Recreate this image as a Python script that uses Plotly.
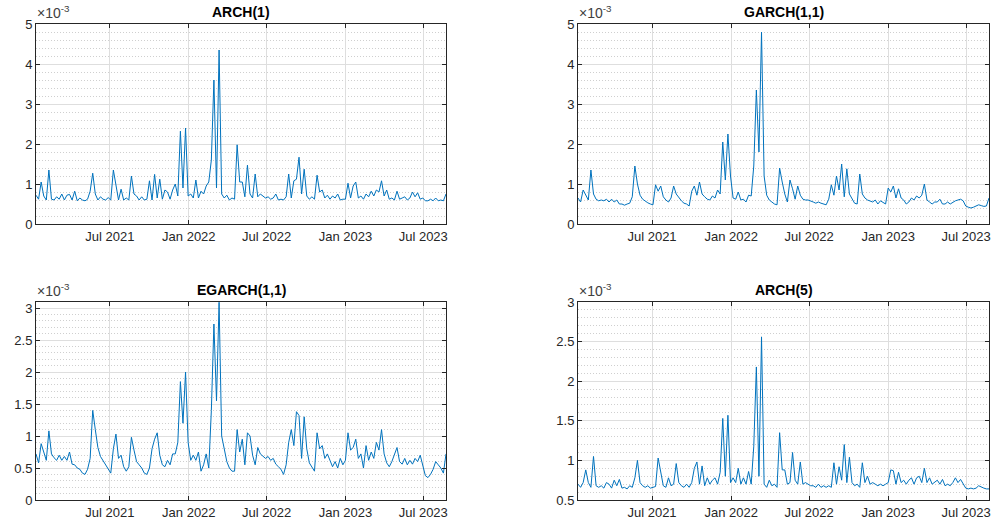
import pandas as pd
import plotly.graph_objects as go

# ---------------- data (conditional variance, units of 1e-3) ----------------
start_date = "2021-01-10"
end_date = "2023-08-23"

titles = ["ARCH(1)", "GARCH(1,1)", "EGARCH(1,1)", "ARCH(5)"]

arch1 = [
    0.72, 0.62, 1.05, 0.70, 0.60, 1.35, 0.62, 0.60, 0.68, 0.62,
    0.75, 0.60, 0.72, 0.74, 0.60, 0.82, 0.58, 0.65, 0.60, 0.58,
    0.62, 0.82, 1.27, 0.75, 0.60, 0.68, 0.62, 0.60, 0.66, 0.60,
    1.35, 0.95, 0.60, 0.87, 0.60, 0.65, 0.60, 1.20, 0.75, 0.70,
    0.60, 0.68, 0.60, 0.62, 1.08, 0.60, 1.24, 0.65, 1.12, 0.62,
    0.85, 0.80, 0.62, 0.85, 1.00, 0.70, 2.32, 0.90, 2.40, 0.70,
    0.75, 0.65, 1.10, 0.65, 0.82, 0.75, 0.95, 1.05, 1.60, 3.60,
    0.90, 4.35, 0.75, 0.65, 0.72, 0.60, 0.65, 0.62, 1.98, 1.05,
    1.05, 0.68, 1.47, 0.75, 0.65, 1.25, 0.68, 0.75, 0.70, 0.65,
    0.68, 0.62, 0.65, 0.75, 0.60, 0.62, 0.60, 0.68, 1.25, 0.65,
    1.08, 1.12, 1.67, 0.75, 1.37, 0.70, 0.62, 0.68, 0.62, 1.22,
    0.80, 0.85, 0.65, 0.72, 0.62, 0.70, 0.65, 0.75, 0.60, 0.62,
    0.62, 1.02, 0.65, 0.95, 1.05, 0.65, 0.70, 0.62, 0.75, 0.68,
    0.82, 0.70, 0.85, 0.80, 1.08, 0.70, 0.85, 0.62, 0.65, 0.60,
    0.82, 0.62, 0.65, 0.68, 0.60, 0.65, 0.80, 0.68, 0.78, 0.62,
    0.65, 0.58, 0.58, 0.62, 0.58, 0.65, 0.58, 0.60, 0.58, 0.75,
]

garch11 = [
    0.65, 0.55, 0.85, 0.72, 0.60, 1.35, 0.75, 0.62, 0.58, 0.60,
    0.58, 0.62, 0.55, 0.62, 0.55, 0.60, 0.50, 0.50, 0.47, 0.50,
    0.52, 0.68, 1.45, 1.00, 0.72, 0.62, 0.57, 0.53, 0.50, 0.48,
    0.98, 0.82, 0.95, 0.68, 0.60, 0.55, 0.65, 0.95, 0.75, 0.65,
    0.58, 0.52, 0.50, 0.45, 0.82, 0.95, 0.72, 1.05, 0.75, 0.68,
    0.62, 0.60, 0.70, 0.65, 0.85, 0.75, 2.05, 1.10, 2.25, 1.20,
    0.65, 0.62, 0.80, 0.60, 0.62, 0.55, 0.72, 0.70, 1.45, 3.35,
    1.80, 4.80, 1.20, 0.72, 0.60, 0.55, 0.50, 0.48, 1.40, 1.05,
    0.75, 0.55, 1.10, 0.88, 0.62, 0.95, 0.72, 0.62, 0.60, 0.60,
    0.58, 0.55, 0.52, 0.55, 0.52, 0.50, 0.48, 0.62, 0.98, 0.72,
    1.20, 0.85, 1.50, 0.68, 1.38, 0.75, 0.62, 0.52, 0.50, 1.25,
    0.75, 0.65, 0.60, 0.58, 0.55, 0.60, 0.50, 0.58, 0.55, 0.50,
    0.90, 0.80, 0.95, 0.65, 0.88, 0.65, 0.60, 0.50, 0.55, 0.65,
    0.60, 0.70, 0.65, 0.72, 1.00, 0.60, 0.55, 0.50, 0.55, 0.55,
    0.62, 0.50, 0.50, 0.55, 0.50, 0.55, 0.58, 0.60, 0.62, 0.58,
    0.45, 0.42, 0.40, 0.42, 0.45, 0.48, 0.46, 0.44, 0.45, 0.65,
]

egarch11 = [
    0.72, 0.58, 0.88, 0.76, 0.62, 1.08, 0.72, 0.66, 0.62, 0.70,
    0.62, 0.68, 0.62, 0.75, 0.56, 0.55, 0.50, 0.48, 0.42, 0.40,
    0.48, 0.65, 1.40, 1.10, 0.82, 0.68, 0.62, 0.55, 0.50, 0.42,
    0.80, 1.03, 0.65, 0.70, 0.52, 0.45, 0.52, 0.98, 0.78, 0.60,
    0.55, 0.50, 0.42, 0.40, 0.50, 0.80, 0.95, 1.05, 0.70, 0.55,
    0.52, 0.62, 0.55, 0.72, 0.72, 0.90, 1.85, 1.20, 2.00, 0.90,
    0.62, 0.70, 0.62, 0.75, 0.45, 0.55, 0.72, 0.50, 1.40, 2.75,
    1.55, 3.09, 1.00, 0.80, 0.60, 0.50, 0.45, 0.45, 1.10, 0.75,
    0.95, 0.55, 1.05, 1.00, 0.70, 0.55, 0.82, 0.72, 0.68, 0.65,
    0.68, 0.62, 0.65, 0.56, 0.52, 0.48, 0.40, 0.55, 0.90, 1.10,
    0.85, 1.38, 1.32, 0.65, 1.30, 0.80, 0.58, 0.52, 0.45, 1.05,
    0.80, 0.85, 0.65, 0.72, 0.62, 0.52, 0.60, 0.50, 0.65, 0.55,
    0.62, 1.05, 0.78, 0.82, 0.95, 0.65, 0.72, 0.50, 0.85, 0.62,
    0.75, 0.65, 0.90, 0.78, 1.10, 0.72, 0.58, 0.52, 0.60, 0.70,
    0.82, 0.60, 0.56, 0.65, 0.55, 0.62, 0.56, 0.65, 0.60, 0.70,
    0.52, 0.38, 0.35, 0.40, 0.48, 0.60, 0.55, 0.50, 0.42, 0.72,
]

arch5 = [
    0.70, 0.66, 0.72, 0.88, 0.72, 0.66, 1.05, 0.68, 0.66, 0.68,
    0.65, 0.72, 0.70, 0.65, 0.75, 0.68, 0.76, 0.65, 0.66, 0.64,
    0.68, 0.66, 0.78, 1.00, 0.72, 0.68, 0.66, 0.68, 0.65, 0.66,
    0.67, 1.03, 0.83, 0.68, 0.66, 0.78, 0.68, 0.70, 0.96, 0.72,
    0.68, 0.66, 0.70, 0.66, 0.72, 0.90, 0.98, 0.70, 0.93, 0.68,
    0.78, 0.70, 0.75, 0.78, 0.70, 0.85, 1.53, 0.80, 1.57, 0.72,
    0.78, 0.72, 0.90, 0.70, 0.78, 0.70, 0.86, 0.70, 1.18, 2.18,
    0.80, 2.56, 0.70, 0.66, 0.75, 0.68, 0.70, 0.66, 1.35, 0.88,
    0.88, 0.70, 0.72, 1.10, 0.75, 0.70, 0.98, 0.70, 0.72, 0.70,
    0.68, 0.68, 0.66, 0.70, 0.66, 0.68, 0.66, 0.68, 0.66, 0.97,
    0.70, 0.92, 0.75, 1.20, 0.72, 1.04, 0.72, 0.68, 0.70, 0.66,
    0.97, 0.72, 0.80, 0.70, 0.72, 0.70, 0.68, 0.70, 0.68, 0.70,
    0.72, 0.88, 0.87, 0.70, 0.85, 0.72, 0.75, 0.70, 0.75, 0.78,
    0.70, 0.78, 0.80, 0.72, 0.90, 0.72, 0.78, 0.70, 0.72, 0.75,
    0.70, 0.76, 0.68, 0.70, 0.68, 0.72, 0.78, 0.72, 0.76, 0.70,
    0.65, 0.64, 0.65, 0.64, 0.65, 0.68, 0.66, 0.65, 0.64, 0.64,
]

x_tick_dates = ["2021-07-01", "2022-01-01", "2022-07-01", "2023-01-01", "2023-07-01"]
x_tick_labels = ["Jul 2021", "Jan 2022", "Jul 2022", "Jan 2023", "Jul 2023"]

y_ranges = [(0, 5), (0, 5), (0, 3.094), (0.5, 3)]
y_ticks = [
    [0, 1, 2, 3, 4, 5],
    [0, 1, 2, 3, 4, 5],
    [0, 0.5, 1, 1.5, 2, 2.5, 3],
    [0.5, 1, 1.5, 2, 2.5, 3],
]
y_minor = [0.2, 0.2, 0.1, 0.1]

series = [arch1, garch11, egarch11, arch5]

# ---------------- layout ----------------
W, H = 992, 525
panels_page = [  # (left, right, top, bottom) in page pixels
    (36, 446, 24, 224),
    (578, 989, 24, 224),
    (36, 446, 302, 500),
    (578, 989, 302, 500),
]
ML, MT = 36, 24
MR, MB = W - 989, H - 500
PW, PH = W - ML - MR, H - MT - MB

FONT = "Liberation Sans, Arial, Helvetica, sans-serif"
AX_COLOR = "#262626"
LINE_COLOR = "#0072BD"


def fx(page_x):
    return (page_x - ML) / PW


def fy(page_y):
    return 1 - (page_y - MT) / PH


fig = go.Figure()
annotations = []

for k, vals in enumerate(series):
    n = k + 1
    xa = "x" if n == 1 else f"x{n}"
    ya = "y" if n == 1 else f"y{n}"
    dates = pd.date_range(start_date, end_date, periods=len(vals))
    fig.add_trace(go.Scatter(
        x=dates, y=vals, mode="lines", xaxis=xa, yaxis=ya,
        line=dict(color=LINE_COLOR, width=1.0), showlegend=False,
        hoverinfo="x+y",
    ))
    l, r, t, b = panels_page[k]
    xdom = [max(0.0, fx(l)), min(1.0, fx(r))]
    ydom = [max(0.0, fy(b)), min(1.0, fy(t))]
    common = dict(
        showline=True, linecolor=AX_COLOR, linewidth=1, mirror="ticks",
        ticks="inside", ticklen=4, tickwidth=1, tickcolor=AX_COLOR,
        tickfont=dict(family=FONT, size=13, color=AX_COLOR),
        showgrid=True, gridcolor="#dedede", gridwidth=1, zeroline=False,
        automargin=False,
    )
    xkey = "xaxis" if n == 1 else f"xaxis{n}"
    ykey = "yaxis" if n == 1 else f"yaxis{n}"
    fig.update_layout(**{
        xkey: dict(
            domain=xdom, anchor=ya, type="date",
            range=[dates[0], dates[-1]],
            tickvals=x_tick_dates, ticktext=x_tick_labels,
            **common,
        ),
        ykey: dict(
            domain=ydom, anchor=xa, range=list(y_ranges[k]),
            tickvals=y_ticks[k], ticktext=[f"{v:g}" for v in y_ticks[k]],
            minor=dict(dtick=y_minor[k], tick0=0, showgrid=True,
                       gridcolor="#cfcfcf", griddash="1px,2px", gridwidth=1, ticks=""),
            **common,
        ),
    })
    # title
    annotations.append(dict(
        text=f"<b>{titles[k]}</b>", x=fx((l + r) / 2), y=fy(t - 12),
        xref="paper", yref="paper", xanchor="center", yanchor="middle",
        showarrow=False, font=dict(family=FONT, size=14, color="#000000"),
    ))
    # exponent label
    annotations.append(dict(
        text="×10<sup>-3</sup>", x=fx(l - 1), y=fy(t - 1),
        xref="paper", yref="paper", xanchor="left", yanchor="bottom",
        showarrow=False, font=dict(family=FONT, size=14, color="#404040"),
    ))

fig.update_layout(
    width=W, height=H,
    margin=dict(l=ML, r=MR, t=MT, b=MB, autoexpand=False),
    paper_bgcolor="white", plot_bgcolor="white",
    annotations=annotations,
    showlegend=False,
)

# remove the default page margin so the 992x525 figure fills the window exactly
fig.write_html(
    "out.html",
    config={"displayModeBar": False},
    post_script="document.body.style.margin='0';document.body.style.overflow='hidden';",
)
